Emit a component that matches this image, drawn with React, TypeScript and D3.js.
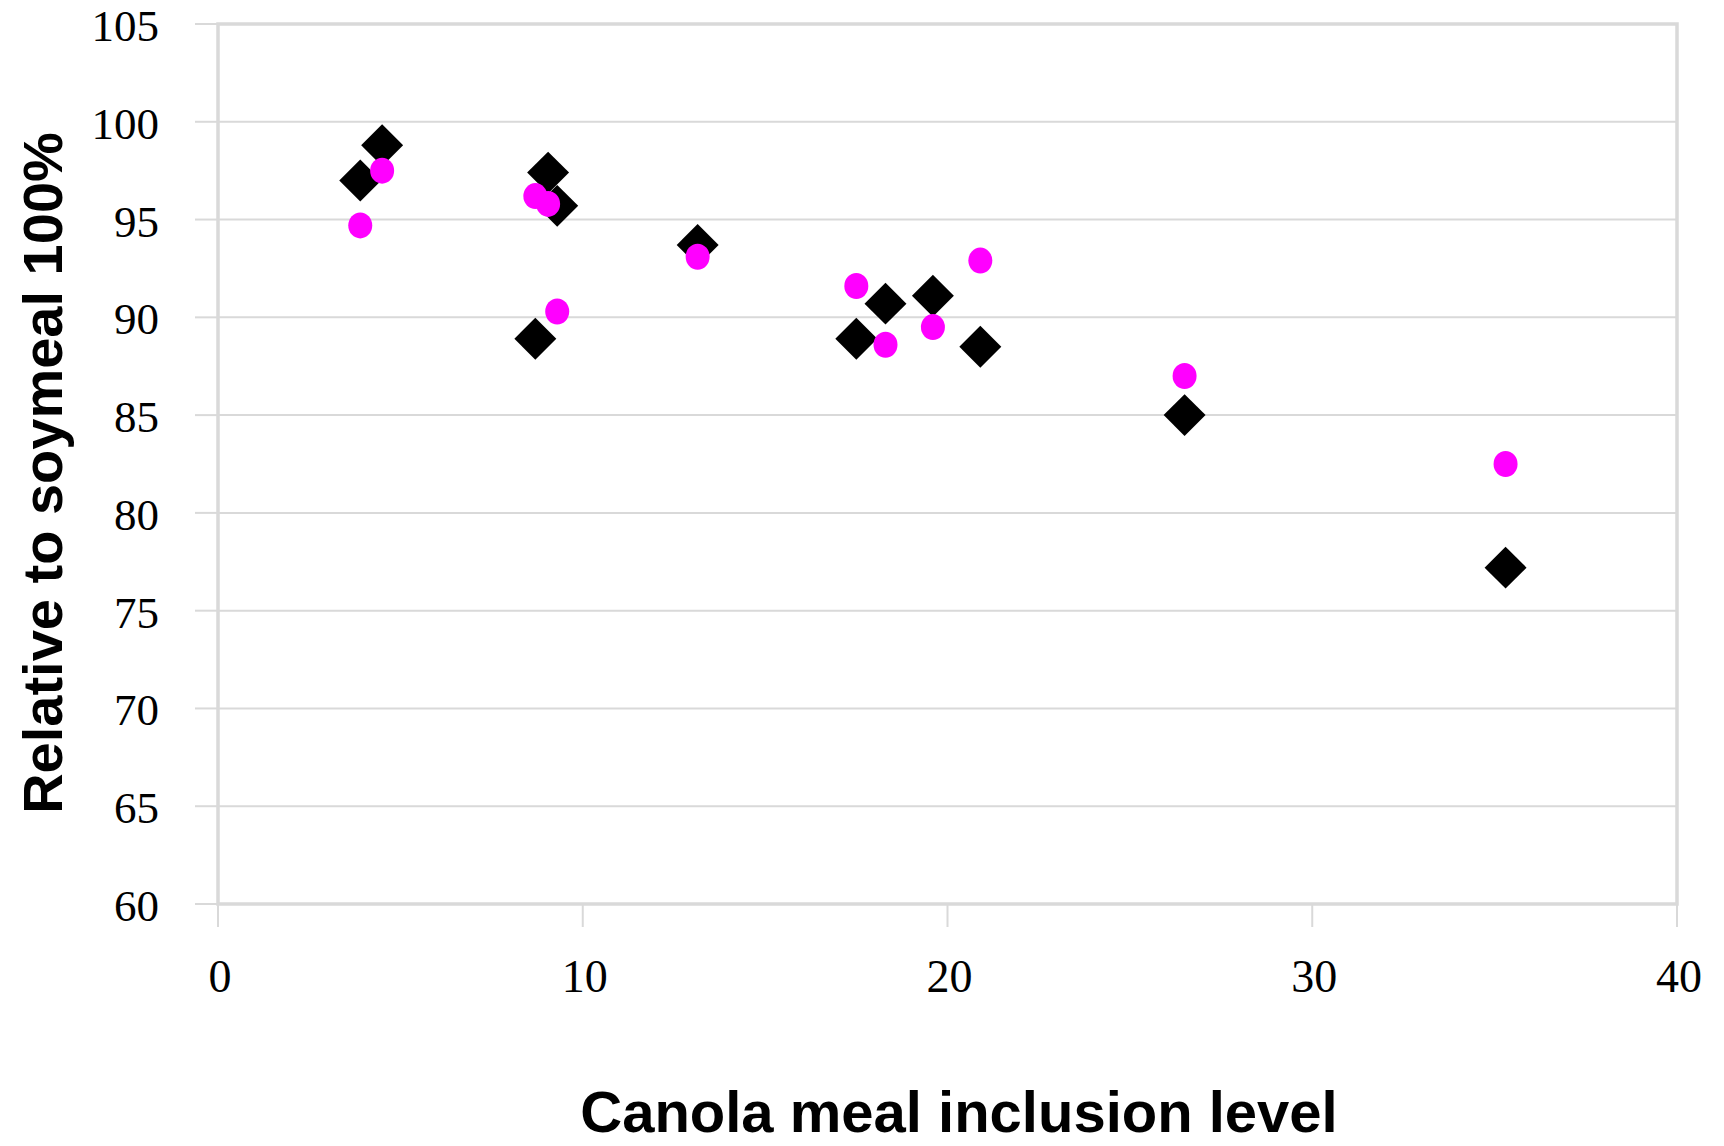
import * as d3 from "d3";

// canola meal inclusion levels (x) shared by both series
const inclusion = [3.9, 4.5, 8.7, 9.05, 9.3, 13.15, 17.5, 18.3, 19.6, 20.9, 26.5, 35.3];
// black diamonds
const diamondValues = [97.0, 98.8, 88.9, 97.4, 95.7, 93.7, 88.9, 90.7, 91.1, 88.5, 85.0, 77.2];
// magenta dots
const dotValues = [94.7, 97.5, 96.2, 95.8, 90.3, 93.1, 91.6, 88.6, 89.5, 92.9, 87.0, 82.5];

const xTicks = [0, 10, 20, 30, 40];
const yTicks = [60, 65, 70, 75, 80, 85, 90, 95, 100, 105];

const W = 1724;
const H = 1146;
const margin = { top: 24, right: 47, bottom: 242, left: 218 };

const App = () => {
  const x = d3
    .scaleLinear()
    .domain([0, 40])
    .range([margin.left, W - margin.right]);
  const y = d3
    .scaleLinear()
    .domain([60, 105])
    .range([H - margin.bottom, margin.top]);

  const diamond = d3.symbol(d3.symbolSquare, 880)();
  const grid = "#d9d9d9";
  const serif = "'Liberation Serif', 'Times New Roman', serif";
  const sans = "'Liberation Sans', Arial, sans-serif";

  return (
    <svg
      width={W}
      height={H}
      style={{ position: "absolute", left: 0, top: 0, background: "#fff" }}
    >
      {/* horizontal gridlines + y ticks */}
      {yTicks.map((t) => (
        <g key={"y" + t}>
          <line x1={x(0)} x2={x(40)} y1={y(t)} y2={y(t)} stroke={grid} strokeWidth={2} />
          <line x1={x(0) - 23} x2={x(0)} y1={y(t)} y2={y(t)} stroke={grid} strokeWidth={2} />
          <text
            x={x(0) - 59}
            y={y(t) + 17}
            textAnchor="end"
            fontFamily={serif}
            fontSize={45}
            fill="#000"
          >
            {t}
          </text>
        </g>
      ))}

      {/* x ticks */}
      {xTicks.map((t) => (
        <g key={"x" + t}>
          <line x1={x(t)} x2={x(t)} y1={y(60)} y2={y(60) + 23} stroke={grid} strokeWidth={2} />
          <text
            x={x(t) + 2}
            y={y(60) + 88}
            textAnchor="middle"
            fontFamily={serif}
            fontSize={46}
            fill="#000"
          >
            {t}
          </text>
        </g>
      ))}

      {/* plot area border */}
      <rect
        x={x(0)}
        y={y(105)}
        width={x(40) - x(0)}
        height={y(60) - y(105)}
        fill="none"
        stroke={grid}
        strokeWidth={3.5}
      />

      {/* diamonds */}
      {inclusion.map((v, i) => (
        <path
          key={"d" + i}
          d={diamond}
          transform={`translate(${x(v)},${y(diamondValues[i])}) rotate(45)`}
          fill="#000"
        />
      ))}

      {/* dots */}
      {inclusion.map((v, i) => (
        <ellipse
          key={"c" + i}
          cx={x(v)}
          cy={y(dotValues[i])}
          rx={12}
          ry={13}
          fill="#ff00ff"
        />
      ))}

      <text
        x={959}
        y={1132}
        textAnchor="middle"
        fontFamily={sans}
        fontWeight="bold"
        fontSize={58}
        fill="#000"
      >
        Canola meal inclusion level
      </text>
      <text
        transform="translate(62,473) rotate(-90)"
        textAnchor="middle"
        fontFamily={sans}
        fontWeight="bold"
        fontSize={56}
        fill="#000"
      >
        Relative to soymeal 100%
      </text>
    </svg>
  );
};

export default App;
